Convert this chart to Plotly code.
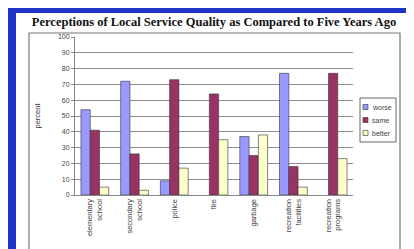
import plotly.graph_objects as go

categories = ["elementary<br>school", "secondary<br>school", "police", "fire",
              "garbage", "recreation<br>facilities", "recreation<br>programs"]
worse = [54, 72, 9, None, 37, 77, None]
same = [41, 26, 73, 64, 25, 18, 77]
better = [5, 3, 17, 35, 38, 5, 23]
series_names = ["worse", "same", "better"]
series_colors = ["#9999FF", "#993366", "#FFFFCC"]

W, H = 414, 249
L, R, T, B = 67, 345, 29, 187  # plot area in pixels

def px(x):
    return (x - L) / (R - L)

def py(y):
    return (B - y) / (B - T)

fig = go.Figure()
for name, vals, col in zip(series_names, [worse, same, better], series_colors):
    fig.add_trace(go.Bar(x=categories, y=vals, name=name, showlegend=False,
                         marker=dict(color=col, line=dict(color="#333333", width=0.6))))

shapes = [
    dict(type="rect", xref="paper", yref="paper", x0=px(0), x1=px(8), y0=py(H), y1=py(0),
         fillcolor="#1f35c8", line=dict(width=0), layer="below"),
    dict(type="rect", xref="paper", yref="paper", x0=px(0), x1=px(W), y0=py(5), y1=py(0),
         fillcolor="#1f35c8", line=dict(width=0), layer="below"),
    dict(type="rect", xref="paper", yref="paper", x0=px(21), x1=px(392), y0=py(244), y1=py(25),
         fillcolor="rgba(0,0,0,0)", line=dict(color="#777777", width=1.2), layer="below"),
    # legend box
    dict(type="rect", xref="paper", yref="paper", x0=px(352), x1=px(388), y0=py(134), y1=py(90),
         fillcolor="white", line=dict(color="#666666", width=1)),
]
annotations = []
for i, (name, col) in enumerate(zip(series_names, series_colors)):
    yc = 99 + i * 13
    shapes.append(dict(type="rect", xref="paper", yref="paper",
                       x0=px(355), x1=px(360), y0=py(yc + 2.5), y1=py(yc - 2.5),
                       fillcolor=col, line=dict(color="#333333", width=0.6)))
    annotations.append(dict(xref="paper", yref="paper", x=px(362), y=py(yc),
                            xanchor="left", yanchor="middle", text=name, showarrow=False,
                            font=dict(size=7, color="#444444")))

fig.update_layout(
    width=W, height=H,
    margin=dict(l=L, r=W - R, t=T, b=H - B),
    paper_bgcolor="white", plot_bgcolor="white",
    barmode="group", bargap=0.3, bargroupgap=0,
    shapes=shapes, annotations=annotations,
    title=dict(text="<b>Perceptions of Local Service Quality as Compared to Five Years Ago</b>",
               x=206 / W, xanchor="center", xref="container", y=1 - 14 / H, yanchor="middle",
               font=dict(family="Liberation Serif", size=12.5, color="#111111")),
    font=dict(family="Liberation Sans", size=7, color="#444444"),
    xaxis=dict(tickangle=-90, showgrid=False, showline=True, linecolor="#888888",
               ticks="", tickfont=dict(size=7.5, color="#444444"), automargin=False),
    yaxis=dict(range=[0, 100], dtick=10, showgrid=True, gridcolor="#8f8f8f", gridwidth=1,
               showline=True, linecolor="#888888", ticks="outside", ticklen=3,
               tickcolor="#888888", tickfont=dict(size=7, color="#444444"),
               title=dict(text="percent", font=dict(size=7.5, color="#333333"), standoff=16),
               automargin=False, zeroline=False),
    showlegend=False,
)

fig.write_html("out.html")
